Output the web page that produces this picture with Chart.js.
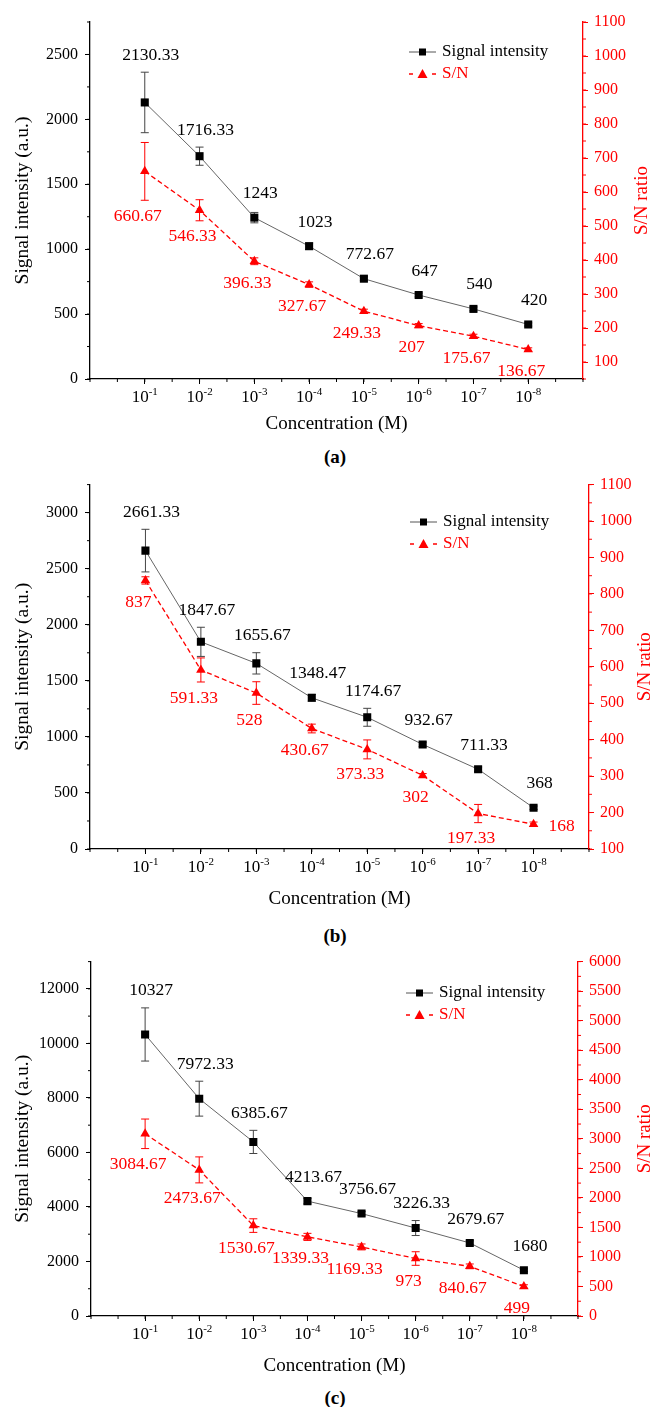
<!DOCTYPE html>
<html>
<head>
<meta charset="utf-8">
<script src="https://cdn.jsdelivr.net/npm/chart.js@4.4.1/dist/chart.umd.min.js"></script>
<style>
  html, body { margin: 0; padding: 0; background: #fff; }
  body { width: 654px; height: 1407px; position: relative; overflow: hidden; font-family: 'Liberation Serif', 'Times New Roman', serif; }
  .panel { position: absolute; left: 0; width: 654px; }
  .tag { position: absolute; left: 0; width: 670px; text-align: center; font-weight: bold; font-size: 19px; line-height: 22px; color: #000; }
</style>
</head>
<body>
<div class="panel" style="top:0px"><canvas id="chart-a" width="654" height="440"></canvas></div>
<div class="tag" style="top:446px">(a)</div>
<div class="panel" style="top:468px"><canvas id="chart-b" width="654" height="442"></canvas></div>
<div class="tag" style="top:925px">(b)</div>
<div class="panel" style="top:945px"><canvas id="chart-c" width="654" height="432"></canvas></div>
<div class="tag" style="top:1387px">(c)</div>

<script>
/* ============================
   DATA
   ============================ */
// concentration labels, written as base^exponent
const categories = ['10^-1', '10^-2', '10^-3', '10^-4', '10^-5', '10^-6', '10^-7', '10^-8'];

// (a)
const signalA = [2130.33, 1716.33, 1243, 1023, 772.67, 647, 540, 420];
const signalErrA = [233, 70, 40, 25, 15, 15, 15, 12];
const snA = [660.67, 546.33, 396.33, 327.67, 249.33, 207, 175.67, 136.67];
const snErrA = [85, 31, 10, 8, 6, 6, 6, 5];
const leftTicksA = [0, 500, 1000, 1500, 2000, 2500];
const rightTicksA = [100, 200, 300, 400, 500, 600, 700, 800, 900, 1000, 1100];

// (b)
const signalB = [2661.33, 1847.67, 1655.67, 1348.47, 1174.67, 932.67, 711.33, 368];
const signalErrB = [190, 130, 95, 30, 80, 20, 20, 15];
const snB = [837, 591.33, 528, 430.67, 373.33, 302, 197.33, 168];
const snErrB = [10, 33, 31, 12, 26, 5, 25, 6];
const leftTicksB = [0, 500, 1000, 1500, 2000, 2500, 3000];
const rightTicksB = [100, 200, 300, 400, 500, 600, 700, 800, 900, 1000, 1100];

// (c)
const signalC = [10327, 7972.33, 6385.67, 4213.67, 3756.67, 3226.33, 2679.67, 1680];
const signalErrC = [975, 640, 425, 100, 80, 275, 80, 50];
const snC = [3084.67, 2473.67, 1530.67, 1339.33, 1169.33, 973, 840.67, 499];
const snErrC = [250, 220, 115, 60, 50, 115, 40, 30];
const leftTicksC = [0, 2000, 4000, 6000, 8000, 10000, 12000];
const rightTicksC = [0, 500, 1000, 1500, 2000, 2500, 3000, 3500, 4000, 4500, 5000, 5500, 6000];

/* ============================
   STYLE / LAYOUT
   ============================ */
const RED = '#ff0000';
const FONT = "'Liberation Serif', 'Times New Roman', serif";
Chart.defaults.font.family = FONT;
Chart.defaults.font.size = 16;
Chart.defaults.color = '#000';

const panels = [
  { canvas: 'chart-a', plotTop: 22, plotLeft: 90, plotRight: 583, xTitleGap: 45,
    leftMax: 2750, leftMinor: 250, rightMin: 50, rightMax: 1100, rightMinor: 50,
    legendX: 409, legendY: 52, rightTitleX: 642, snLastRight: false,
    signal: signalA, signalErr: signalErrA, sn: snA, snErr: snErrA, leftTicks: leftTicksA, rightTicks: rightTicksA },
  { canvas: 'chart-b', plotTop: 14, plotLeft: 90, plotRight: 589, xTitleGap: 50,
    leftMax: 3250, leftMinor: 250, rightMin: 100, rightMax: 1100, rightMinor: 50,
    legendX: 410, legendY: 54, rightTitleX: 645, snLastRight: true,
    signal: signalB, signalErr: signalErrB, sn: snB, snErr: snErrB, leftTicks: leftTicksB, rightTicks: rightTicksB },
  { canvas: 'chart-c', plotTop: 15, plotLeft: 91, plotRight: 578, xTitleGap: 50,
    leftMax: 13000, leftMinor: 1000, rightMin: 0, rightMax: 6000, rightMinor: 250,
    legendX: 406, legendY: 48, rightTitleX: 645, snLastRight: false,
    signal: signalC, signalErr: signalErrC, sn: snC, snErr: snErrC, leftTicks: leftTicksC, rightTicks: rightTicksC }
];

/* ============================
   DECORATION PLUGIN
   error bars, value labels, minor ticks, superscript x labels, legend, right title
   ============================ */
function decorPlugin(p) {
  function errBar(ctx, x, yTop, yBot, color) {
    ctx.strokeStyle = color;
    ctx.lineWidth = 1;
    ctx.beginPath();
    ctx.moveTo(x, yTop); ctx.lineTo(x, yBot);
    ctx.moveTo(x - 4, yTop); ctx.lineTo(x + 4, yTop);
    ctx.moveTo(x - 4, yBot); ctx.lineTo(x + 4, yBot);
    ctx.stroke();
  }

  function minorTicks(ctx, scale, step, len, color, side) {
    ctx.strokeStyle = color;
    ctx.lineWidth = 1;
    ctx.beginPath();
    for (let v = Math.ceil(scale.min / step) * step; v <= scale.max + 1e-9; v += step) {
      const px = scale.getPixelForValue(v);
      if (side === 'left') { ctx.moveTo(scale.right, px); ctx.lineTo(scale.right - len, px); }
      if (side === 'right') { ctx.moveTo(scale.left, px); ctx.lineTo(scale.left + len, px); }
      if (side === 'bottom') { ctx.moveTo(px, scale.top); ctx.lineTo(px, scale.top + len); }
    }
    ctx.stroke();
  }

  return {
    id: 'decor',
    beforeDatasetsDraw(chart) {
      const ctx = chart.ctx;
      ctx.save();
      chart.data.datasets.forEach((ds, d) => {
        const meta = chart.getDatasetMeta(d);
        const yScale = chart.scales[ds.yAxisID];
        meta.data.forEach((pt, i) => {
          const v = ds.data[i].y, e = ds.errors[i];
          errBar(ctx, pt.x, yScale.getPixelForValue(v + e), yScale.getPixelForValue(v - e), ds.errColor);
        });
      });
      ctx.restore();
    },
    afterDatasetsDraw(chart) {
      const ctx = chart.ctx;
      ctx.save();
      ctx.font = '17.5px ' + FONT;
      ctx.textAlign = 'center';
      ctx.textBaseline = 'middle';
      chart.data.datasets.forEach((ds, d) => {
        const meta = chart.getDatasetMeta(d);
        const yScale = chart.scales[ds.yAxisID];
        meta.data.forEach((pt, i) => {
          const v = ds.data[i].y, e = ds.errors[i];
          const label = String(v);
          if (d === 0) {
            const top = yScale.getPixelForValue(v + e);
            ctx.fillStyle = '#000';
            ctx.fillText(label, pt.x + 6, Math.min(pt.y - 24, top - 17));
          } else if (p.snLastRight && i === meta.data.length - 1) {
            ctx.fillStyle = RED;
            ctx.fillText(label, pt.x + 28, pt.y + 2);
          } else {
            const bot = yScale.getPixelForValue(v - e);
            ctx.fillStyle = RED;
            ctx.fillText(label, pt.x - 7, Math.max(pt.y + 22, bot + 16));
          }
        });
      });
      ctx.restore();
    },
    afterDraw(chart) {
      const ctx = chart.ctx;
      const area = chart.chartArea;
      const xs = chart.scales.x;
      ctx.save();
      minorTicks(ctx, chart.scales.y, p.leftMinor, 3, '#000', 'left');
      minorTicks(ctx, chart.scales.y1, p.rightMinor, 3, RED, 'right');
      minorTicks(ctx, xs, 0.5, 3, '#000', 'bottom');

      // x tick labels with superscript exponent
      ctx.fillStyle = '#000';
      ctx.textAlign = 'left';
      ctx.textBaseline = 'alphabetic';
      categories.forEach((c, i) => {
        const [base, exp] = c.split('^');
        ctx.font = '17px ' + FONT;
        const wb = ctx.measureText(base).width;
        ctx.font = '11px ' + FONT;
        const we = ctx.measureText(exp).width;
        const x0 = xs.getPixelForValue(i + 1) - (wb + we) / 2;
        const yb = xs.top + 23;
        ctx.font = '17px ' + FONT;
        ctx.fillText(base, x0, yb);
        ctx.font = '11px ' + FONT;
        ctx.fillText(exp, x0 + wb, yb - 7);
      });

      // right axis title, reads bottom to top
      ctx.save();
      ctx.translate(p.rightTitleX, (area.top + area.bottom) / 2);
      ctx.rotate(-Math.PI / 2);
      ctx.font = '19px ' + FONT;
      ctx.fillStyle = RED;
      ctx.textAlign = 'center';
      ctx.textBaseline = 'middle';
      ctx.fillText('S/N ratio', 0, 0);
      ctx.restore();

      // legend
      const lx = p.legendX, ly = p.legendY, gap = 22;
      ctx.lineWidth = 1;
      ctx.strokeStyle = '#555';
      ctx.beginPath(); ctx.moveTo(lx, ly); ctx.lineTo(lx + 27, ly); ctx.stroke();
      ctx.fillStyle = '#000';
      ctx.fillRect(lx + 10, ly - 3.5, 7, 7);
      ctx.strokeStyle = RED;
      ctx.lineWidth = 1.3;
      ctx.beginPath();
      ctx.moveTo(lx, ly + gap); ctx.lineTo(lx + 4, ly + gap);
      ctx.moveTo(lx + 23, ly + gap); ctx.lineTo(lx + 27, ly + gap);
      ctx.stroke();
      ctx.fillStyle = RED;
      ctx.beginPath();
      ctx.moveTo(lx + 13.5, ly + gap - 5);
      ctx.lineTo(lx + 18.5, ly + gap + 4);
      ctx.lineTo(lx + 8.5, ly + gap + 4);
      ctx.closePath(); ctx.fill();
      ctx.font = '17px ' + FONT;
      ctx.textAlign = 'left';
      ctx.textBaseline = 'middle';
      ctx.fillStyle = '#000';
      ctx.fillText('Signal intensity', lx + 33, ly);
      ctx.fillStyle = RED;
      ctx.fillText('S/N', lx + 33, ly + gap);
      ctx.restore();
    }
  };
}

/* ============================
   CHART BUILDER
   ============================ */
function buildPanel(p) {
  const canvas = document.getElementById(p.canvas);
  const xAxisHeight = 61;
  const plotBottom = canvas.height - xAxisHeight;
  const xTitlePad = canvas.height - plotBottom - p.xTitleGap - 19 * 1.2 / 2;

  return new Chart(canvas, {
    type: 'line',
    data: {
      datasets: [
        { label: 'Signal intensity', yAxisID: 'y', data: p.signal.map((v, i) => ({ x: i + 1, y: v })),
          errors: p.signalErr, errColor: '#444',
          borderColor: '#666', borderWidth: 1, pointStyle: 'rect', pointRadius: 5.7,
          pointBackgroundColor: '#000', pointBorderColor: '#000', pointBorderWidth: 0, tension: 0 },
        { label: 'S/N', yAxisID: 'y1', data: p.sn.map((v, i) => ({ x: i + 1, y: v })),
          errors: p.snErr, errColor: RED,
          borderColor: RED, borderWidth: 1.3, borderDash: [5, 3], pointStyle: 'triangle', pointRadius: 5.5,
          pointBackgroundColor: RED, pointBorderColor: RED, pointBorderWidth: 0, tension: 0 }
      ]
    },
    options: {
      responsive: false,
      animation: false,
      layout: { padding: { top: p.plotTop, left: 0, right: 0, bottom: 0 } },
      plugins: { legend: { display: false }, tooltip: { enabled: false } },
      scales: {
        x: {
          type: 'linear', min: 0, max: 9,
          afterBuildTicks: ax => { ax.ticks = categories.map((_, i) => ({ value: i + 1 })); },
          afterFit: s => { s.height = xAxisHeight; },
          ticks: { callback: () => '', padding: 2, autoSkip: false, maxRotation: 0 },
          grid: { drawOnChartArea: false, tickLength: 5, color: '#000', tickColor: '#000', tickWidth: 1 },
          border: { color: '#000', width: 1.3 },
          title: { display: true, text: 'Concentration (M)', color: '#000', font: { size: 19 }, padding: { top: 0, bottom: xTitlePad } }
        },
        y: {
          position: 'left', min: 0, max: p.leftMax,
          afterBuildTicks: ax => { ax.ticks = p.leftTicks.map(v => ({ value: v })); },
          afterFit: s => { s.width = p.plotLeft; },
          ticks: { callback: v => String(v), color: '#000', font: { size: 16 }, padding: 7 },
          grid: { drawOnChartArea: false, tickLength: 5, color: '#000', tickColor: '#000', tickWidth: 1 },
          border: { color: '#000', width: 1.3 },
          title: { display: true, text: 'Signal intensity (a.u.)', color: '#000', font: { size: 19.5 }, padding: { top: 11, bottom: 0 } }
        },
        y1: {
          position: 'right', min: p.rightMin, max: p.rightMax,
          afterBuildTicks: ax => { ax.ticks = p.rightTicks.map(v => ({ value: v })); },
          afterFit: s => { s.width = 654 - p.plotRight; },
          ticks: { callback: v => String(v), color: RED, font: { size: 16 }, padding: 6 },
          grid: { drawOnChartArea: false, tickLength: 5, color: RED, tickColor: RED, tickWidth: 1 },
          border: { color: RED, width: 1.3 }
        }
      }
    },
    plugins: [decorPlugin(p)]
  });
}

panels.forEach(buildPanel);
</script>
</body>
</html>
